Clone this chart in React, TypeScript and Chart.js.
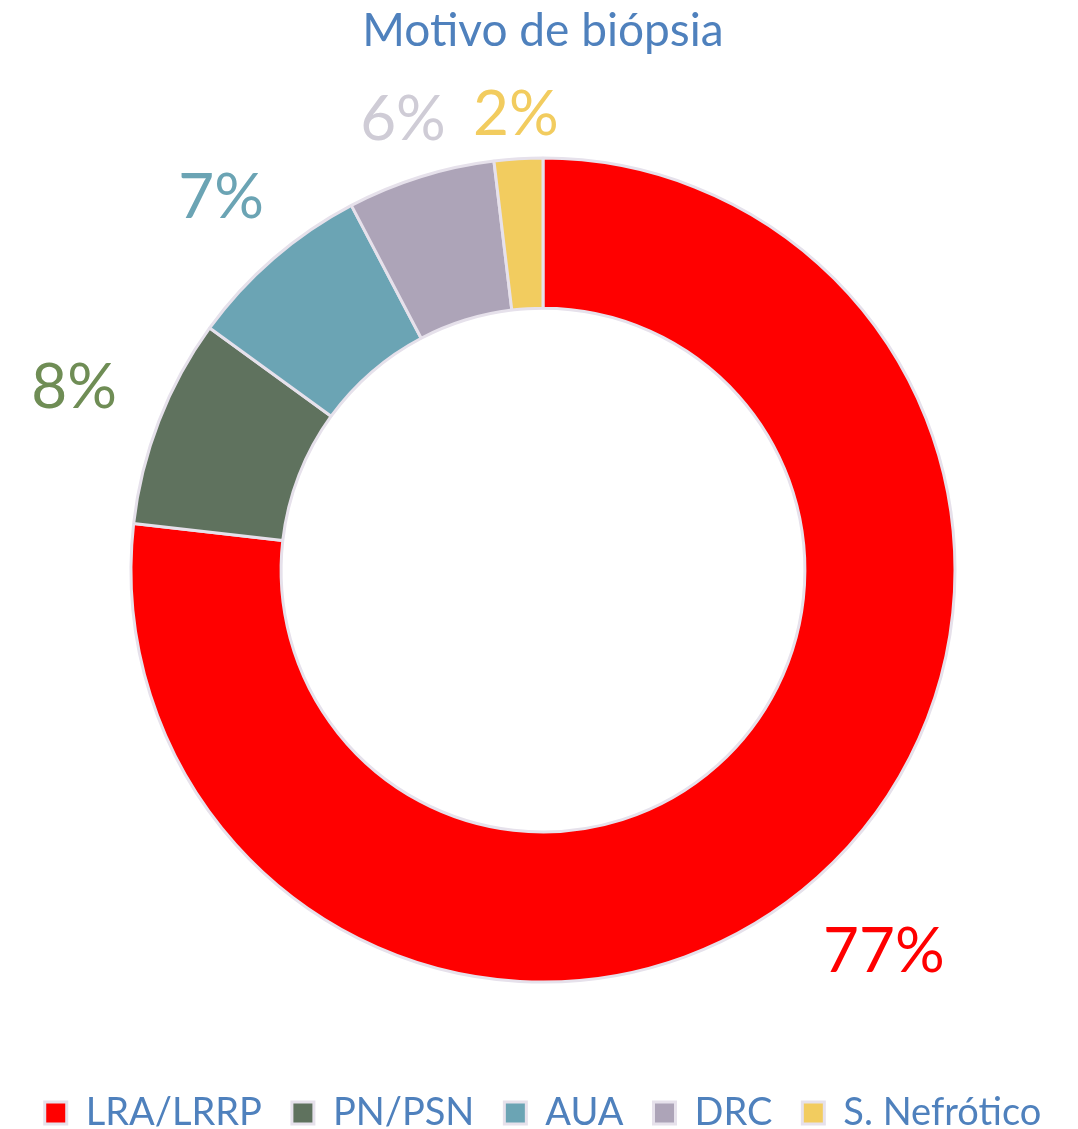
import React, { useEffect, useRef } from "react";
import { Chart, registerables } from "chart.js";

Chart.register(...registerables);

const categories = ["LRA/LRRP", "PN/PSN", "AUA", "DRC", "S. Nefrótico"];
const values = [76.8, 8.2, 7.3, 5.8, 1.9];
const sliceColors = ["#FF0000", "#5F725E", "#6BA4B4", "#ADA4B8", "#F2CC5F"];
const labelColors = ["#FF0000", "#6F8D55", "#6BA4B4", "#CFCCD6", "#F2CC5F"];
const titleText = "Motivo de biópsia";

const FONT = "Lato, 'Open Sans', sans-serif";
const TEXT_BLUE = "#4F81BD";
const BORDER = "#E6E1EB";

const outLabels = {
  id: "outLabels",
  afterDatasetsDraw(chart: any) {
    const ctx = chart.ctx;
    const meta = chart.getDatasetMeta(0);
    const total = values.reduce((a, b) => a + b, 0);
    ctx.save();
    ctx.font = `62px ${FONT}`;
    ctx.textAlign = "center";
    ctx.textBaseline = "middle";
    meta.data.forEach((arc: any, i: number) => {
      const p = arc.getProps(["x", "y", "startAngle", "endAngle", "outerRadius"], true);
      const mid = (p.startAngle + p.endAngle) / 2;
      const ux = Math.cos(mid);
      const uy = Math.sin(mid);
      const text = Math.round((values[i] / total) * 100) + "%";
      const w = ctx.measureText(text).width;
      const h = 40;
      const r = p.outerRadius + 20 + Math.abs(ux) * w * 0.8 + Math.abs(uy) * h / 2;
      ctx.fillStyle = labelColors[i];
      ctx.fillText(text, p.x + ux * r, p.y + uy * r);
    });
    ctx.restore();
  },
};

export default function App() {
  const ref = useRef<HTMLCanvasElement | null>(null);
  useEffect(() => {
    if (!ref.current) return;
    const chart = new Chart(ref.current, {
      type: "doughnut",
      data: {
        labels: categories,
        datasets: [
          {
            data: values,
            backgroundColor: sliceColors,
            borderColor: BORDER,
            borderWidth: 3,
            radius: 412,
            cutout: 313,
          } as any,
        ],
      },
      options: {
        responsive: false,
        animation: false,
        layout: { padding: { left: 8, right: 0, top: 0, bottom: -13 } },
        plugins: {
          title: {
            display: true,
            text: titleText,
            color: TEXT_BLUE,
            font: { family: FONT, size: 46, weight: "normal" },
            padding: { top: 4, bottom: 17 },
          },
          legend: {
            position: "bottom",
            labels: {
              color: TEXT_BLUE,
              font: { family: FONT, size: 38 },
              boxWidth: 22,
              boxHeight: 22,
              padding: 30,
            },
          },
          tooltip: { enabled: false },
        },
      },
      plugins: [outLabels],
    });
    return () => chart.destroy();
  }, []);
  return (
    <div style={{ position: "fixed", left: 0, top: 0, width: 1078, height: 1129, background: "#fff" }}>
      <canvas ref={ref} width={1078} height={1129} style={{ display: "block" }} />
    </div>
  );
}
